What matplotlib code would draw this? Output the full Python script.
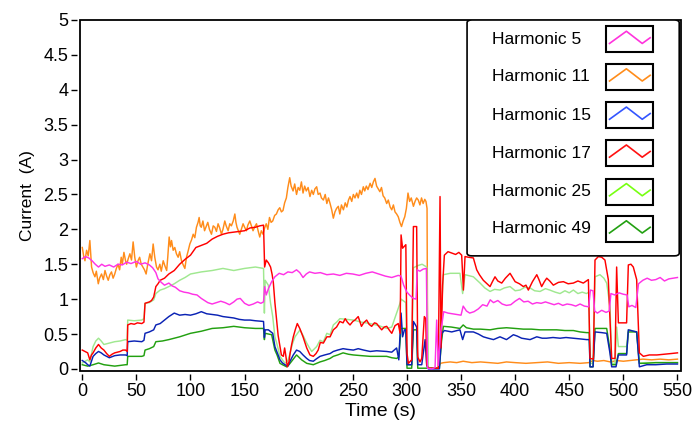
import matplotlib
matplotlib.use("Agg")
import matplotlib.pyplot as plt
from matplotlib.patches import FancyBboxPatch, Rectangle

plt.rcParams['font.family'] = ['Liberation Sans', 'DejaVu Sans']

# (time s, current A)
h5 = [(0,1.58),(3,1.61),(6,1.59),(9,1.55),(12,1.5),(15,1.46),(18,1.5),(21,1.47),(25,1.49),(29,1.46),
      (33,1.5),(37,1.49),(41,1.53),(45,1.51),(50,1.54),(54,1.5),(58,1.52),(62,1.49),(65,1.45),(68,1.38),
      (70,1.29),(73,1.24),(76,1.2),(80,1.23),(83,1.19),(86,1.17),(90,1.12),(94,1.1),(98,1.09),(102,1.07),
      (106,1.06),(110,1.01),(113,0.98),(116,0.95),(120,0.93),(124,0.95),(128,0.97),(132,0.95),(136,0.92),
      (140,0.96),(143,1.0),(146,1.01),(150,0.94),(154,0.91),(158,0.93),(162,0.96),(165,0.94),(167.5,0.96),
      (168.5,1.18),(170,1.06),(172,1.15),(175,1.25),(178,1.32),(182,1.37),(186,1.35),(190,1.39),(194,1.38),
      (198,1.42),(201,1.38),(204,1.31),(207,1.36),(210,1.39),(215,1.37),(220,1.38),(226,1.35),(232,1.36),
      (238,1.34),(244,1.37),(250,1.36),(256,1.34),(262,1.37),(268,1.39),(274,1.36),(280,1.33),(286,1.31),
      (292,1.34),(294.5,1.33),(297,1.2),(300,1.1),(303,1.05),(306,1.01),(308.5,1.0),(309.5,1.42),(312,1.4),
      (315,1.43),(318,1.44),(319,0.01),(323,0.0),(326,0.02),(327.5,0.7),(329,0.05),(331,0.5),(334,0.82),
      (338,0.8),(342,0.79),(346,0.78),(350,0.77),(352,0.9),(355,0.83),(358,0.8),(362,0.82),(366,0.86),
      (370,0.92),(374,0.9),(377,0.99),(380,0.95),(384,0.98),(388,0.93),(392,0.91),(396,0.92),(400,0.97),
      (404,1.01),(408,0.96),(412,0.97),(416,0.93),(420,0.95),(424,0.94),(428,0.96),(432,0.94),(436,0.92),
      (440,0.94),(444,0.91),(448,0.93),(452,0.92),(456,0.9),(460,0.93),(464,0.9),(468,0.89),(469.5,1.13),
      (472,1.12),(473.5,0.83),(476,0.8),(480,0.84),(484,0.81),(487,0.83),(488.5,1.08),(492,1.06),(496,1.09),
      (500,1.07),(503.5,1.06),(505,0.89),(508,0.91),(511.5,0.88),(514,1.22),(518,1.27),(522,1.3),(526,1.27),
      (530,1.28),(534,1.31),(538,1.26),(542,1.29),(546,1.3),(550,1.31)]

h11 = [(0,1.74),(1.5,1.6),(2.5,1.55),(4,1.7),(5.5,1.62),(7,1.84),(8.6,1.46),(10,1.38),(11.7,1.32),(13,1.4),
       (14.8,1.22),(16,1.3),(17.8,1.36),(19.5,1.28),(21,1.41),(22.5,1.33),(24,1.27),(25.5,1.35),(27,1.39),
       (28.5,1.3),(30,1.36),(31.5,1.44),(33,1.5),(34.5,1.42),(36,1.6),(37,1.5),(38.5,1.67),(40,1.55),(41,1.5),
       (42.5,1.58),(44,1.65),(45.5,1.56),(47,1.82),(48.5,1.6),(50,1.46),(51.5,1.55),(53,1.6),(54.5,1.5),
       (56,1.46),(57.5,1.42),(59,1.36),(60.5,1.5),(62.5,1.65),(64,1.55),(65.5,1.79),(67,1.6),(68.6,1.46),
       (70,1.42),(71.7,1.5),(73,1.4),(74.8,1.55),(76.5,1.47),(78,1.41),(79,1.6),(80.3,1.89),(81.5,1.75),
       (82.5,1.84),(84,1.7),(85.5,1.74),(87,1.65),(88.6,1.6),(90,1.68),(91.7,1.55),(93,1.5),(94.8,1.44),
       (96.3,1.6),(98,1.7),(99.4,1.79),(101,1.85),(102.5,1.93),(104,1.88),(105.5,2.03),(107,2.1),(108,2.17),
       (109,2.05),(110,2.03),(111.5,2.12),(113,1.98),(114.5,2.04),(116,2.1),(117.5,2.0),(119.4,1.93),
       (121,2.05),(122.5,2.03),(124,1.97),(125.5,2.08),(127,2.02),(128.6,1.93),(130,2.0),(131.7,2.12),
       (133,2.05),(134.8,1.98),(136.3,2.08),(137.8,2.05),(139.5,2.12),(141,2.22),(142,2.1),(143,2.03),
       (144.3,1.98),(145.5,1.93),(147,2.0),(148.6,2.08),(150,2.03),(151.7,1.98),(153,2.06),(154.8,2.12),
       (156.3,2.05),(157.8,1.98),(159.5,2.04),(161,2.08),(162.5,1.98),(164,1.89),(165.5,1.98),(167,1.93),
       (168.5,2.02),(170,2.08),(171.5,2.0),(173,2.17),(174.5,2.1),(176,2.12),(177.8,2.2),(179.4,2.22),
       (181,2.28),(182.5,2.31),(184,2.25),(185.5,2.27),(187,2.38),(188.6,2.45),(190,2.6),(191.7,2.74),
       (193,2.62),(194.8,2.55),(196.3,2.65),(198,2.5),(199.5,2.6),(201,2.56),(202.5,2.68),(204,2.52),
       (205.5,2.62),(207,2.55),(208.7,2.6),(210.4,2.47),(212,2.56),(213.5,2.5),(215,2.58),(216.6,2.61),
       (218,2.5),(219.7,2.52),(221,2.45),(222.8,2.42),(224.5,2.5),(226,2.37),(227.5,2.45),(229,2.37),
       (230.5,2.28),(232,2.16),(233.5,2.25),(235,2.3),(236.6,2.33),(238,2.22),(239.5,2.35),(241.3,2.28),
       (243,2.38),(244.5,2.32),(246,2.42),(247.4,2.47),(249,2.4),(250.5,2.5),(252,2.45),(253.6,2.52),
       (255,2.45),(256.5,2.56),(258,2.5),(259.7,2.61),(261,2.55),(262.5,2.62),(264,2.57),(266,2.66),
       (267.5,2.6),(269,2.68),(270.5,2.73),(272,2.62),(273.5,2.58),(275,2.54),(276.5,2.6),(278,2.48),
       (279.5,2.45),(281.3,2.37),(282.8,2.42),(284.5,2.32),(286,2.28),(287.5,2.35),(289,2.25),(290.5,2.22),
       (292,2.18),(293.5,2.1),(295,2.04),(296.5,2.12),(298,2.18),(299.5,2.3),(301,2.52),(302.5,2.4),
       (304,2.45),(306,2.33),(307.5,2.4),(309,2.45),(310.5,2.42),(312,2.35),(313.5,2.45),(315,2.37),
       (316.5,2.43),(317.6,2.4),(318.6,2.3),(319.2,0.02),(325,0.01),(329,0.02),(331,0.08),(334,0.09),
       (340,0.1),(346,0.09),(352,0.11),(360,0.09),(368,0.1),(376,0.09),(384,0.08),(392,0.1),(400,0.09),
       (410,0.08),(420,0.09),(430,0.1),(440,0.08),(450,0.09),(460,0.08),(468,0.09),(472,0.12),(476,0.11),
       (482,0.12),(488,0.1),(494,0.12),(500,0.11),(506,0.12),(512,0.13),(518,0.14),(526,0.13),(534,0.14),
       (542,0.13),(550,0.14)]

h15 = [(0,0.12),(3,0.09),(5,0.06),(7,0.04),(10,0.18),(12.5,0.22),(15,0.25),(17.5,0.23),(20,0.2),(25,0.16),
       (30,0.19),(35,0.2),(40,0.2),(41.5,0.19),(42,0.39),(48,0.4),(55,0.39),(57,0.41),(58,0.51),(62,0.53),
       (66,0.56),(68,0.63),(72,0.65),(76,0.7),(80,0.75),(85,0.8),(90,0.77),(95,0.78),(100,0.77),(105,0.79),
       (110,0.82),(115,0.79),(120,0.78),(125,0.77),(130,0.75),(135,0.74),(140,0.73),(145,0.71),(150,0.7),
       (155,0.7),(160,0.69),(167.5,0.68),(168.3,0.45),(169,0.56),(172,0.56),(176,0.51),(178,0.32),(180,0.24),
       (182.7,0.13),(185,0.085),(187.3,0.06),(190,0.04),(192,0.11),(195,0.2),(198,0.27),(201,0.25),(204,0.2),
       (207.4,0.15),(210,0.12),(213.5,0.11),(216,0.14),(219.7,0.18),(224,0.2),(229,0.22),(232,0.25),
       (236,0.27),(241,0.29),(245,0.28),(250.5,0.27),(255,0.29),(260,0.27),(266,0.25),(272,0.26),
       (281.3,0.25),(286,0.24),(290.5,0.3),(292.5,0.13),(294.6,0.8),(296,0.46),(297.7,0.56),(299,0.56),
       (300.1,0.06),(304.4,0.06),(306,0.68),(309,0.6),(310,0.06),(313.7,0.06),(316.8,0.42),(318.3,0.05),
       (319.8,0.0),(330,0.0),(332.2,0.51),(334.6,0.55),(341.4,0.53),(349,0.56),(351.5,0.42),(353.7,0.53),
       (361.4,0.53),(366,0.5),(370.6,0.46),(375,0.44),(380,0.42),(386,0.46),(392,0.42),(398.4,0.49),
       (402,0.47),(406,0.44),(410,0.43),(413.8,0.42),(420,0.46),(425,0.44),(429,0.44),(435,0.45),
       (441.5,0.44),(447,0.45),(453.8,0.44),(460,0.43),(466,0.42),(468.5,0.42),(469.2,0.03),(472,0.03),
       (473.8,0.53),(480,0.52),(484.6,0.51),(487.7,0.22),(489.2,0.03),(493.2,0.03),(495.4,0.2),(503,0.2),
       (504.6,0.56),(512.3,0.53),(514.8,0.03),(521.6,0.06),(530,0.06),(540,0.07),(550,0.07)]

h17 = [(0,0.27),(2.5,0.25),(5,0.23),(7,0.13),(8.5,0.2),(10,0.23),(12.5,0.3),(15,0.35),(17.5,0.3),(20,0.27),
       (22.5,0.22),(25,0.18),(27.5,0.21),(30,0.23),(32.5,0.24),(35,0.25),(37.5,0.27),(40,0.27),(41.5,0.25),
       (42,0.63),(45,0.65),(48,0.64),(51,0.66),(55,0.65),(57,0.67),(58,0.94),(62,0.96),(64,0.98),(66,1.03),
       (68,1.18),(70,1.22),(72,1.27),(76,1.3),(80,1.36),(85,1.41),(90,1.5),(95,1.57),(100,1.63),(105,1.74),
       (110,1.77),(115,1.8),(120,1.86),(125,1.9),(130,1.93),(135,1.95),(140,1.96),(145,1.97),(150,1.98),
       (155,2.02),(160,2.03),(164,2.05),(167.5,2.06),(168.5,1.46),(170,1.56),(172,1.52),(174,1.46),
       (175.5,1.35),(176.6,1.23),(178,0.95),(179.6,0.7),(181,0.48),(182.7,0.32),(184,0.2),(185.8,0.18),
       (187,0.3),(188,0.2),(189.5,0.03),(191,0.1),(192,0.22),(193.5,0.35),(195,0.46),(197,0.57),(198.7,0.65),
       (201,0.58),(204,0.46),(207.4,0.3),(210.4,0.2),(213.5,0.18),(216,0.22),(218,0.27),(220,0.38),
       (222.8,0.37),(226,0.46),(229,0.46),(232,0.56),(235,0.6),(238,0.68),(241,0.66),(243,0.72),(245,0.67),
       (247.4,0.63),(250,0.68),(252,0.7),(255,0.75),(258,0.61),(260,0.66),(262.8,0.7),(265,0.64),
       (267.4,0.61),(270,0.66),(272,0.65),(274.5,0.6),(276.7,0.56),(279,0.6),(281.3,0.61),(284,0.55),
       (286,0.51),(289,0.62),(292,0.65),(293.7,0.51),(294.6,1.92),(296,1.73),(299,1.78),(300.1,0.22),
       (301.4,0.08),(304.4,0.13),(306,2.04),(309,2.04),(310,0.17),(312.1,0.1),(313.7,0.15),(316.1,0.75),
       (317.4,0.72),(318.3,0.06),(319.8,0.01),(329,0.01),(330.6,2.47),(331.5,0.3),(333,1.2),(334.6,1.63),
       (338,1.68),(341.4,1.66),(345,1.64),(348,1.67),(350.6,1.63),(352.2,1.13),(353.7,1.61),(357,1.6),
       (361.4,1.59),(364.5,1.42),(367,1.35),(370.6,1.27),(374,1.22),(376.8,1.18),(379,1.25),(381.4,1.32),
       (384,1.26),(387.6,1.23),(391,1.3),(395.3,1.37),(398,1.3),(400,1.25),(404,1.22),(407.6,1.18),
       (410,1.2),(412.2,1.13),(416,1.25),(420,1.35),(422,1.28),(424.5,1.18),(427,1.25),(429.2,1.3),
       (432,1.26),(435.3,1.2),(440,1.24),(444.6,1.25),(449,1.22),(453.8,1.23),(458,1.26),(463,1.23),
       (467.7,1.28),(469.2,0.15),(472.3,0.14),(473.8,1.56),(476.9,1.61),(480,1.6),(483,1.56),(486.1,1.28),
       (489.2,0.15),(492.3,0.15),(493.8,1.46),(495.4,0.66),(498.4,0.66),(503,0.66),(504.6,1.49),(507,1.5),
       (509.2,1.46),(512.3,1.28),(514.8,0.23),(518.5,0.18),(524,0.2),(531,0.2),(538,0.21),(544,0.22),
       (550,0.23)]

h25 = [(0,0.085),(5,0.13),(7,0.1),(10,0.32),(12.5,0.4),(15,0.44),(17.5,0.4),(20,0.35),(25,0.37),(30,0.39),
       (35,0.4),(40,0.42),(41.5,0.41),(42,0.7),(48,0.69),(55,0.7),(57,0.72),(58,0.94),(62,0.95),(66,0.99),
       (68,1.08),(72,1.13),(76,1.15),(80,1.18),(85,1.22),(90,1.27),(95,1.31),(100,1.36),(110,1.39),
       (120,1.41),(130,1.44),(140,1.41),(150,1.44),(160,1.46),(167.5,1.44),(168.3,0.8),(169,1.27),
       (171.9,1.2),(174,0.94),(176,0.75),(178,0.46),(180,0.35),(182.7,0.18),(185,0.13),(187.3,0.08),
       (190,0.12),(192,0.22),(194,0.35),(196.6,0.46),(201.2,0.56),(204,0.48),(207.4,0.37),(210,0.3),
       (212,0.25),(216.6,0.32),(219.7,0.41),(222.8,0.39),(226,0.51),(229,0.49),(232,0.63),(235,0.67),
       (238,0.72),(244,0.71),(250.5,0.7),(258,0.67),(266,0.65),(274,0.62),(281.3,0.58),(286,0.6),
       (290.5,0.8),(293.6,0.94),(294.6,1.0),(299,0.95),(300.1,0.05),(304.4,0.05),(306,1.45),(310,1.48),
       (314,1.5),(318.3,1.46),(319.8,0.01),(329,0.01),(331,0.6),(333.7,1.35),(340,1.37),(349,1.37),
       (351.5,1.08),(353.7,1.35),(361.4,1.32),(367.6,1.23),(372,1.16),(376.8,1.11),(381,1.14),(386,1.13),
       (390,1.16),(395.3,1.18),(400,1.12),(404.5,1.13),(409,1.17),(413.8,1.16),(418,1.12),(423,1.11),
       (428,1.15),(432,1.13),(437,1.1),(441.5,1.08),(446,1.12),(450,1.09),(453.8,1.13),(458,1.08),
       (462,1.1),(466,1.08),(468,1.1),(469.2,0.08),(472,0.08),(473.8,1.32),(478.4,1.35),(482,1.3),
       (484.6,1.23),(487.7,0.89),(489.2,0.08),(492.3,0.08),(493.8,0.6),(495.4,0.32),(503,0.32),(504.6,0.56),
       (512.3,0.53),(514.8,0.08),(520,0.09),(530,0.09),(540,0.09),(550,0.09)]

h49 = [(0,0.06),(5,0.04),(10,0.06),(15,0.085),(20,0.06),(25,0.05),(30,0.04),(35,0.05),(40,0.06),(41.5,0.06),
       (42,0.18),(48,0.18),(55,0.18),(57,0.19),(58,0.27),(62,0.29),(66,0.32),(68,0.39),(74,0.4),(80,0.42),
       (90,0.46),(100,0.51),(110,0.54),(120,0.58),(130,0.59),(140,0.61),(150,0.59),(160,0.58),(167.5,0.58),
       (168.3,0.42),(169,0.51),(172,0.5),(175,0.49),(178,0.27),(180,0.2),(182.7,0.08),(185,0.06),
       (188.9,0.03),(191,0.06),(193.5,0.11),(198,0.2),(202.7,0.13),(207.4,0.08),(213.5,0.06),(219.7,0.1),
       (224,0.12),(229,0.15),(232,0.18),(236,0.2),(241,0.23),(246,0.21),(250.5,0.2),(258,0.19),(266,0.18),
       (274,0.18),(281.3,0.18),(286,0.16),(290.5,0.15),(292.5,0.17),(294.6,0.58),(299,0.58),(300.1,0.01),
       (304.4,0.01),(306,0.56),(309,0.56),(310,0.01),(318,0.01),(330,0.01),(332,0.4),(333.7,0.61),(341,0.6),
       (349,0.58),(352,0.63),(355,0.59),(361.4,0.57),(368,0.57),(376.8,0.56),(384,0.58),(392,0.59),
       (400,0.58),(407.6,0.57),(415,0.57),(423,0.56),(430,0.56),(438.4,0.56),(446,0.55),(453.8,0.55),
       (460,0.53),(466,0.52),(468.5,0.52),(469.2,0.03),(472,0.03),(473.8,0.58),(480,0.58),(484.6,0.58),
       (487.7,0.27),(489.2,0.06),(493.2,0.06),(495.4,0.22),(503,0.22),(504.6,0.53),(512.3,0.53),
       (514.8,0.08),(520,0.08),(530,0.09),(540,0.09),(550,0.09)]

names = ['Harmonic 5', 'Harmonic 11', 'Harmonic 15', 'Harmonic 17', 'Harmonic 25', 'Harmonic 49']
series = [h5, h11, h15, h17, h25, h49]
line_colors = ['#ff33e6', '#ff8c1a', '#0a22b4', '#ff0000', '#a0e890', '#22a010']
key_colors = ['#ff33dd', '#ff8c1a', '#3355ff', '#ff1111', '#77ff11', '#22a011']
zorders = [6, 1, 4, 5, 2, 3]

x_ticks = list(range(0, 551, 50))
y_ticks = [0, 0.5, 1, 1.5, 2, 2.5, 3, 3.5, 4, 4.5, 5]
y_labels = ['0', '0.5', '1', '1.5', '2', '2.5', '3', '3.5', '4', '4.5', '5']

fig = plt.figure(figsize=(6.95, 4.3), dpi=100)
ax = fig.add_axes([0.1151, 0.1372, 0.8648, 0.8163])

for pts, col, z in zip(series, line_colors, zorders):
    t = [p[0] for p in pts]
    v = [p[1] for p in pts]
    ax.plot(t, v, color=col, lw=1.05, zorder=z)

ax.set_xlim(-2.1, 553.3)
ax.set_ylim(-0.03, 5.0)
ax.set_xticks(x_ticks)
ax.set_yticks(y_ticks)
ax.set_yticklabels(y_labels)

# box around the plot, ticks detached from it
ax.patch.set_edgecolor('black')
ax.patch.set_linewidth(1.3)
for s in ax.spines.values():
    s.set_color('none')
ax.spines['left'].set_position(('outward', 2.5))
ax.spines['bottom'].set_position(('outward', 2.5))
ax.tick_params(direction='out', length=4, width=1, labelsize=13, pad=2)

ax.set_xlabel('Time (s)', fontsize=14, labelpad=2)
ax.set_ylabel('Current  (A)', fontsize=12.5, labelpad=6)

# hand drawn key
box = FancyBboxPatch((0.644, 0.328), 0.353, 0.672, boxstyle='round,pad=0,rounding_size=0.008',
                     transform=ax.transAxes, facecolor='white', edgecolor='black', lw=1.2, zorder=10)
ax.add_patch(box)
key_y = [0.945, 0.838, 0.729, 0.621, 0.511, 0.405]
bw, bh = 0.078, 0.074
for name, col, yc in zip(names, key_colors, key_y):
    ax.text(0.6855, yc, name, transform=ax.transAxes, fontsize=12.5, va='center', ha='left', zorder=11)
    ax.add_patch(Rectangle((0.875, yc - bh / 2), bw, bh, transform=ax.transAxes,
                           facecolor='white', edgecolor='black', lw=1.5, zorder=11))
    zx = [0.875 + bw * f for f in (0.077, 0.437, 0.775, 0.944)]
    zy = [yc - bh / 2 + bh * f for f in (0.34, 0.81, 0.34, 0.56)]
    ax.plot(zx, zy, color=col, lw=1.2, transform=ax.transAxes, zorder=12, clip_on=False)

fig.savefig('out.png', dpi=100)
